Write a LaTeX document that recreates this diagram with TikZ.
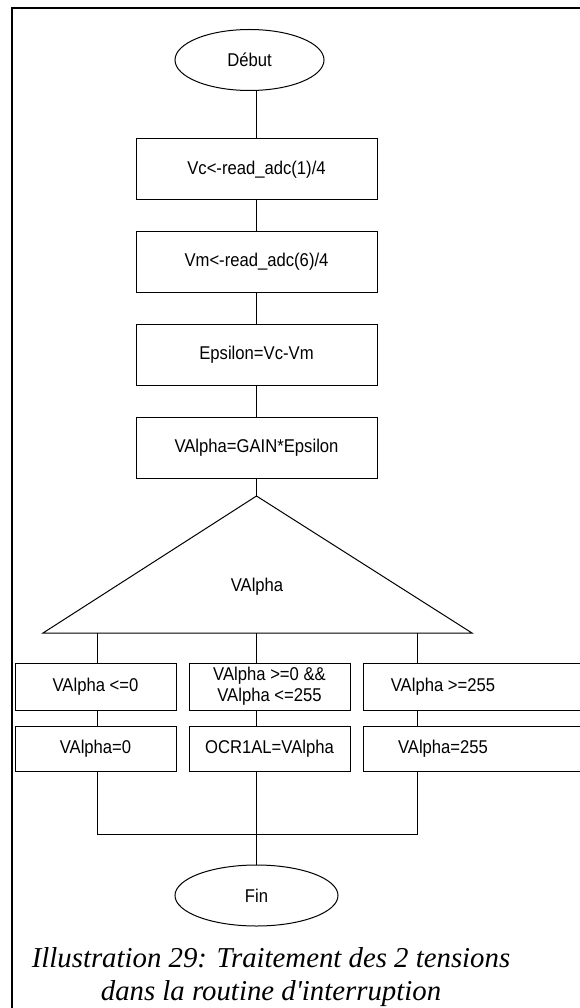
\documentclass[tikz,border=0pt]{standalone}
\usepackage{fontspec}
\setmainfont{Liberation Serif}
\newfontfamily\boxfont[FakeStretch=0.9]{Liberation Sans}
\usetikzlibrary{shapes.geometric}

\begin{document}
\begin{tikzpicture}[x=1pt,y=-1pt,
  every node/.style={font=\boxfont\fontsize{18.5}{21}\selectfont, inner sep=0pt, outer sep=0pt},
  link/.style={line width=1pt},
  terminal/.style={draw, ellipse, line width=1pt, minimum height=61pt},
  stepbox/.style={draw, rectangle, line width=1pt, minimum width=241pt, minimum height=61pt},
  casebox/.style={draw, rectangle, line width=1pt, minimum width=161pt, minimum height=47pt},
  actbox/.style={draw, rectangle, line width=1pt, minimum width=161pt, minimum height=45pt},
  wide/.style={minimum width=240pt},
  frame/.style={line width=2.3pt},
  caption/.style={font=\itshape\fontsize{28.8}{33}\selectfont, align=center}]
\useasboundingbox (0,0) rectangle (580,1008);

% page frame (top and left edges)
\draw[frame] (12,1020) -- (12,8) -- (600,8);

% start
\node[terminal, minimum width=149pt] (debut) at (249.5,60) {Début};

% sequence of computations
\node[stepbox] (b1) at (256.5,169.5) {Vc<-read\_adc(1)/4};
\node[stepbox] (b2) at (256.5,262) {Vm<-read\_adc(6)/4};
\node[stepbox] (b3) at (256.5,354.5) {Epsilon=Vc-Vm};
\node[stepbox] (b4) at (256.5,447.5) {VAlpha=GAIN*Epsilon};

\draw[link] (b1.north |- debut.south) -- (b1.north);
\draw[link] (b1) -- (b2);
\draw[link] (b2) -- (b3);
\draw[link] (b3) -- (b4);

% selection on VAlpha
\coordinate (apex) at (256.5,496);
\coordinate (tl) at (43,633);
\coordinate (tr) at (472,633);
\draw[link] (b4.south) -- (apex);
\draw[link] (tl) -- (apex) -- (tr) -- cycle;
\node (sel) at (257,587) {VAlpha};

\coordinate (bl) at (97,633);
\coordinate (bm) at (256.5,633);
\coordinate (br) at (417,633);

% cases
\node[casebox] (cl) at (95.5,686.5) {VAlpha <=0};
\node[casebox, align=center] (cm) at (269.5,686.5) {VAlpha >=0 \&\&\\VAlpha <=255};
\node[casebox, wide, label={[xshift=-40pt]center:VAlpha >=255}] (cr) at (483,686.5) {};

\node[actbox] (al) at (95.5,748.5) {VAlpha=0};
\node[actbox] (am) at (269.5,748.5) {OCR1AL=VAlpha};
\node[actbox, wide, label={[xshift=-40pt]center:VAlpha=255}] (ar) at (483,748.5) {};

\draw[link] (bl) -- (bl |- cl.north);
\draw[link] (bm) -- (bm |- cm.north);
\draw[link] (br) -- (br |- cr.north);
\draw[link] (bl |- cl.south) -- (bl |- al.north);
\draw[link] (bm |- cm.south) -- (bm |- am.north);
\draw[link] (br |- cr.south) -- (br |- ar.north);

% merge and end
\node[terminal, minimum width=163pt] (fin) at (256.5,895.5) {Fin};
\coordinate (jl) at (97,834);
\coordinate (jr) at (417,834);
\draw[link] (bl |- al.south) -- (jl) -- (jr) -- (br |- ar.south);
\draw[link] (bm |- am.south) -- (fin.north);

% caption
\node[caption] (cap) at (271,977) {Illustration 29: Traitement des 2 tensions\\dans la routine d\textquotesingle interruption};
\end{tikzpicture}
\end{document}
